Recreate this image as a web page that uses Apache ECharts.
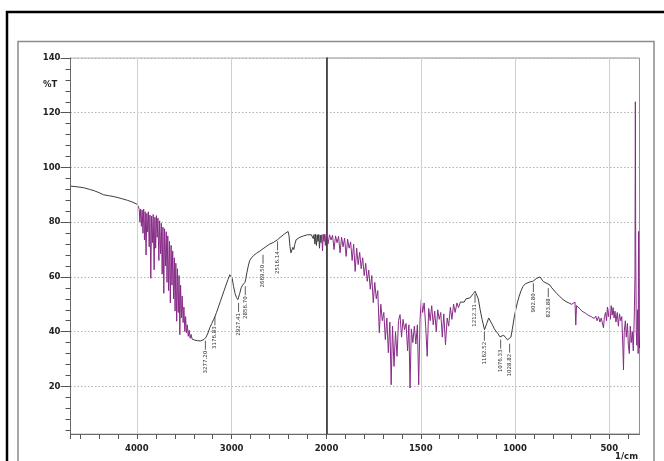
<!DOCTYPE html>
<html><head><meta charset="utf-8">
<script src="https://cdn.jsdelivr.net/npm/echarts@6/dist/echarts.min.js"></script>
<style>html,body{margin:0;padding:0;background:#fff}#c{width:664px;height:461px}</style>
</head><body><div id="c"></div>
<script>
// ---- data (wavenumber in 1/cm, transmittance in %T) ----
const wavenumbers = [
4700,4650,4600,4550,4500,4450,4400,4350,4300,4250,4200,4150,4100,4050,4000,3985,
3975,3968,3960,3952,3944,3936,3928,3920,3912,3903,3895,3887,3879,3870,3862,3853,3845,3836,3828,3818,
3810,3802,3794,3786,3778,3768,3760,3750,3742,3733,3725,3716,3708,3699,3690,3682,3674,3665,3656,3647,
3639,3630,3622,3613,3605,3597,3589,3580,3572,3563,3555,3547,3539,3530,3522,3512,3504,3494,3486,3477,
3468,3458,3448,3438,3428,3418,3405,3390,3375,3360,3345,3330,3310,3290,3270,3250,3230,3210,3190,3176,
3160,3140,3120,3100,3080,3060,3040,3020,3007,2995,2980,2965,2950,2935,2925,2915,2900,2885,2870,2860,
2850,2840,2825,2810,2790,2770,2740,2700,2670,2640,2600,2560,2520,2480,2440,2420,2405,2395,2385,2375,
2365,2355,2345,2335,2320,2300,2280,2260,2240,2220,2200,2180,2160,
2150,2140,2132,2122,2115,2106,2098,2090,2082,2074,2066,2058,2050,2042,2035,2027,2020,2012,2005,2000,
1992,1984,1976,1968,1960,1952,1944,1936,1928,1920,1912,1904,1896,1888,1880,1872,1864,1856,1848,1840,
1832,1824,1816,1808,1800,1792,1784,1776,1768,1760,1752,1744,1736,1728,1720,1712,1704,1696,1688,1680,
1672,1664,1657,1650,1642,1634,1626,1618,1610,1602,1594,1586,1578,1570,1563,1557,1550,1542,1534,1526,
1518,1511,1504,1497,1490,1482,1474,1466,1458,1450,1442,1434,1426,1418,1410,1402,1394,1386,1378,1369,
1360,1352,1343,1335,1326,1318,1308,1300,1290,1280,1270,1260,1250,1240,1230,1220,1212,1203,1195,1185,
1175,1162,1150,1140,1130,1120,1110,1100,1090,1080,1070,1060,1050,1040,1030,1022,1015,1005,995,988,
978,968,958,945,935,920,905,895,885,875,868,860,850,840,830,823,815,805,796,780,
765,745,730,715,700,690,682,678,674,665,655,645,637,628,620,612,604,596,588,580,
572,565,557,550,543,536,531,526,520,515,510,505,500,495,490,485,480,475,470,465,
458,452,446,440,434,428,425,421,415,410,404,399,394,389,384,378,373,368,364,362,
360,357,354,350,347,345,342,340
];
const transmittance = [
93.2,93.0,92.8,92.5,92.0,91.5,90.8,90.0,89.7,89.4,89.0,88.5,88.0,87.4,86.6,85.8,
84.6,80.0,84.8,78.5,84.4,76.0,84.8,73.5,83.8,68.0,83.2,76.5,83.8,71.0,82.6,59.5,82.2,72.5,82.8,62.6,
81.8,70.5,82.4,74.5,81.5,66.0,80.5,68.5,79.6,61.0,78.2,54.0,77.6,64.0,76.5,58.0,75.0,55.0,73.0,50.5,
71.5,57.0,69.5,52.0,67.0,47.5,65.0,43.8,63.0,47.0,60.5,38.9,57.0,45.0,53.0,43.3,49.0,40.0,45.5,39.5,
42.5,38.3,40.5,37.6,39.0,37.3,38.0,36.9,37.4,36.7,37.0,36.6,36.8,37.2,38.0,39.5,41.5,43.0,44.5,45.5,
47.0,49.0,51.0,53.0,55.0,57.0,59.0,60.8,61.4,59.5,56.5,54.0,52.5,51.7,52.0,54.0,56.0,57.0,57.2,58.0,
59.5,61.5,64.0,66.0,67.0,67.8,68.6,69.5,70.3,71.0,72.0,72.6,73.5,74.7,75.8,76.4,76.6,75.0,71.0,68.8,
69.5,70.8,70.0,71.8,73.6,74.2,74.5,74.8,75.0,75.2,75.4,75.5,75.4,
75.3,74.0,75.5,72.0,75.6,71.5,75.4,73.0,75.5,70.5,75.3,72.5,75.4,69.5,75.6,73.0,75.5,71.5,75.6,75.4,
72.0,75.4,73.5,75.2,70.0,75.0,72.5,74.8,68.8,74.5,71.0,74.2,67.5,73.8,70.5,72.8,66.0,72.0,62.0,70.5,
64.5,69.0,63.0,67.0,60.5,65.0,58.4,62.5,55.5,60.5,50.6,58.0,52.0,55.0,39.6,50.0,44.0,47.0,37.1,45.0,
32.3,43.5,20.6,42.0,27.3,40.0,31.0,44.0,46.2,38.0,44.5,40.7,43.0,33.0,42.5,19.4,41.0,36.0,42.0,35.5,
42.5,20.6,44.4,51.7,47.0,50.5,42.0,31.0,48.5,44.0,49.5,42.5,47.5,40.0,48.0,44.5,47.0,38.0,46.5,35.2,
45.0,42.0,48.9,44.5,50.1,47.0,50.5,48.8,50.8,51.5,50.8,52.0,51.3,52.3,53.0,54.0,54.8,55.5,52.0,48.0,
44.5,40.7,43.0,45.0,44.3,42.5,41.0,40.5,39.2,38.1,38.8,38.7,37.8,37.0,36.8,38.0,40.7,45.0,48.5,50.5,
53.0,55.0,56.5,57.5,58.0,58.2,58.4,59.0,59.5,59.8,60.0,59.3,58.3,57.8,57.6,57.8,57.0,56.0,55.3,54.0,
53.0,51.7,51.0,50.5,50.0,50.5,50.8,42.4,49.5,48.8,48.3,47.5,47.5,46.8,47.0,46.0,46.4,45.5,46.0,44.8,
45.7,44.0,45.5,43.5,45.0,44.5,41.4,45.5,47.0,44.0,49.0,45.5,48.5,44.5,49.5,46.0,48.8,45.0,47.5,43.5,
47.0,42.0,46.5,44.0,45.5,34.0,26.0,40.0,44.0,38.0,43.0,35.0,32.0,42.0,36.0,40.0,33.0,45.0,60.0,124.0,
70.0,40.0,35.0,48.0,32.0,76.6,40.0,34.0
];
const peakWavenumbers = [3277.20, 3176.83, 2927.41, 2856.70, 2669.50, 2516.14, 1212.31, 1162.52, 1076.33, 1028.82, 902.80, 823.88];
const peakMarkerLevels = [36.7, 45.6, 50.5, 56.6, 68.1, 73.0, 53.8, 40.0, 37.1, 35.6, 57.7, 55.9];
const yLabelValues = [20, 40, 60, 80, 100, 120, 140];
const xLabelsLeft = [4000, 3000, 2000];
const xLabelsRight = [1500, 1000, 500];
const xGridLeft = [4000, 3000];
const xGridRight = [1500, 1000, 500];
const noisyRanges = [[3420, 3985], [1290, 2060], [340, 700]];
const axisBreak = 2000, wnMax = 4700, wnMin = 340, tMin = 2.6, tMax = 140;

// ---- build ----
const yMinorTicks = []; for (let v = 4; v < tMax; v += 4) yMinorTicks.push(v);
const xTicksRight = []; for (let v = 1900; v >= 400; v -= 100) xTicksRight.push(v);
const pts = wavenumbers.map((w, i) => [w, transmittance[i]]);
const leftData = pts.filter(p => p[0] >= axisBreak);
const rightData = pts.filter(p => p[0] <= axisBreak);
const peaks = peakWavenumbers.map((w, i) => [w, peakMarkerLevels[i], i]);
const leftPeaks = peaks.filter(p => p[0] >= axisBreak);
const rightPeaks = peaks.filter(p => p[0] < axisBreak);

const FONT = '"DejaVu Sans", sans-serif';
const lbl = { fontFamily: FONT, fontWeight: 'bold', fontSize: 8.5, color: '#222' };
const purple = '#862a86', gray = '#3c3c3c';

function renderPeak(params, api) {
  const p = api.coord([api.value(0), api.value(1)]);
  const idx = api.value(2);
  return { type: 'group', children: [
    { type: 'line', shape: { x1: p[0], y1: p[1], x2: p[0], y2: p[1] + 9 }, style: { stroke: '#333', lineWidth: 0.8 } },
    { type: 'text', x: p[0], y: p[1] + 10, rotation: Math.PI / 2,
      style: { text: peakWavenumbers[idx].toFixed(2), align: 'right', verticalAlign: 'middle',
               fontSize: 5.5, fontFamily: FONT, fill: '#333' } }
  ]};
}
const gridLineStyle = { color: '#cfcfcf', type: 'solid', width: 1 };
const mk = vals => ({ silent: true, symbol: ['none', 'none'], label: { show: false },
  lineStyle: gridLineStyle, emphasis: { disabled: true }, data: vals.map(v => ({ xAxis: v })) });

const chart = echarts.init(document.getElementById('c'), null, { renderer: 'canvas' });
chart.setOption({
  animation: false,
  backgroundColor: '#fff',
  graphic: [
    { type: 'rect', silent: true, z: -10, shape: { x: 7, y: 12, width: 720, height: 520 }, style: { fill: 'none', stroke: '#000', lineWidth: 2.5 } },
    { type: 'rect', silent: true, z: -10, shape: { x: 18, y: 41.5, width: 636, height: 500 }, style: { fill: 'none', stroke: '#8a8a8a', lineWidth: 1.5 } },
    { type: 'text', x: 43, y: 85, style: { text: '%T', font: 'bold 8.5px ' + FONT, fill: '#222', verticalAlign: 'middle' } },
    { type: 'text', x: 638, y: 457, style: { text: '1/cm', font: 'bold 8.5px ' + FONT, fill: '#222', align: 'right', verticalAlign: 'middle' } }
  ],
  grid: [
    { left: 70.5, top: 58, width: 256, height: 376, show: true, borderColor: '#b5b5b5', borderWidth: 1 },
    { left: 326.5, top: 58, width: 313, height: 376, show: true, borderColor: '#8f8f8f', borderWidth: 1 }
  ],
  xAxis: [
    { gridIndex: 0, type: 'value', inverse: true, min: axisBreak, max: wnMax, interval: 200,
      axisLine: { show: true, lineStyle: { color: '#6a6a6a' } },
      axisTick: { show: true, length: 5, lineStyle: { color: '#555' } },
      axisLabel: Object.assign({ margin: 10, formatter: v => xLabelsLeft.includes(v) ? String(v) : '' }, lbl),
      splitLine: { show: false } },
    { gridIndex: 1, type: 'value', inverse: true, min: wnMin, max: axisBreak,
      axisLine: { show: true, lineStyle: { color: '#6a6a6a' } },
      axisTick: { show: true, length: 5, lineStyle: { color: '#555' }, customValues: xTicksRight },
      axisLabel: Object.assign({ margin: 10, customValues: xLabelsRight, formatter: v => String(v) }, lbl),
      splitLine: { show: false } }
  ],
  yAxis: [
    { gridIndex: 0, type: 'value', min: tMin, max: tMax, splitNumber: 7,
      axisLine: { show: true, lineStyle: { color: '#6a6a6a' } },
      axisTick: { show: true, length: 10, lineStyle: { color: '#555' }, customValues: yLabelValues },
      axisLabel: Object.assign({ margin: 10, customValues: yLabelValues,
        formatter: v => (Math.abs(v % 20) < 1e-6 ? String(v) : '') }, lbl),
      splitLine: { show: true, lineStyle: { color: '#b3b3b3', type: [1.5, 2] } } },
    { gridIndex: 0, type: 'value', min: tMin, max: tMax, position: 'left',
      axisLine: { show: false }, axisLabel: { show: false }, splitLine: { show: false },
      axisTick: { show: true, length: 5, lineStyle: { color: '#555' }, customValues: yMinorTicks } },
    { gridIndex: 1, type: 'value', min: tMin, max: tMax, splitNumber: 7,
      axisLine: { show: true, lineStyle: { color: '#333', width: 1.6 } },
      axisTick: { show: false }, axisLabel: { show: false },
      splitLine: { show: true, lineStyle: { color: '#b3b3b3', type: [1.5, 2] } } }
  ],
  visualMap: {
    type: 'piecewise', show: false, dimension: 0, seriesIndex: [0, 1],
    pieces: noisyRanges.map(r => ({ gte: r[0], lte: r[1], color: purple })),
    outOfRange: { color: gray }
  },
  series: [
    { type: 'line', xAxisIndex: 0, yAxisIndex: 0, data: leftData, showSymbol: false, symbol: 'none',
      lineStyle: { width: 1 }, silent: true, markLine: mk(xGridLeft), z: 3 },
    { type: 'line', xAxisIndex: 1, yAxisIndex: 2, data: rightData, showSymbol: false, symbol: 'none',
      lineStyle: { width: 1 }, silent: true, markLine: mk(xGridRight), z: 3 },
    { type: 'custom', xAxisIndex: 0, yAxisIndex: 0, data: leftPeaks, renderItem: renderPeak, silent: true, z: 4 },
    { type: 'custom', xAxisIndex: 1, yAxisIndex: 2, data: rightPeaks, renderItem: renderPeak, silent: true, z: 4 }
  ]
});
</script></body></html>
